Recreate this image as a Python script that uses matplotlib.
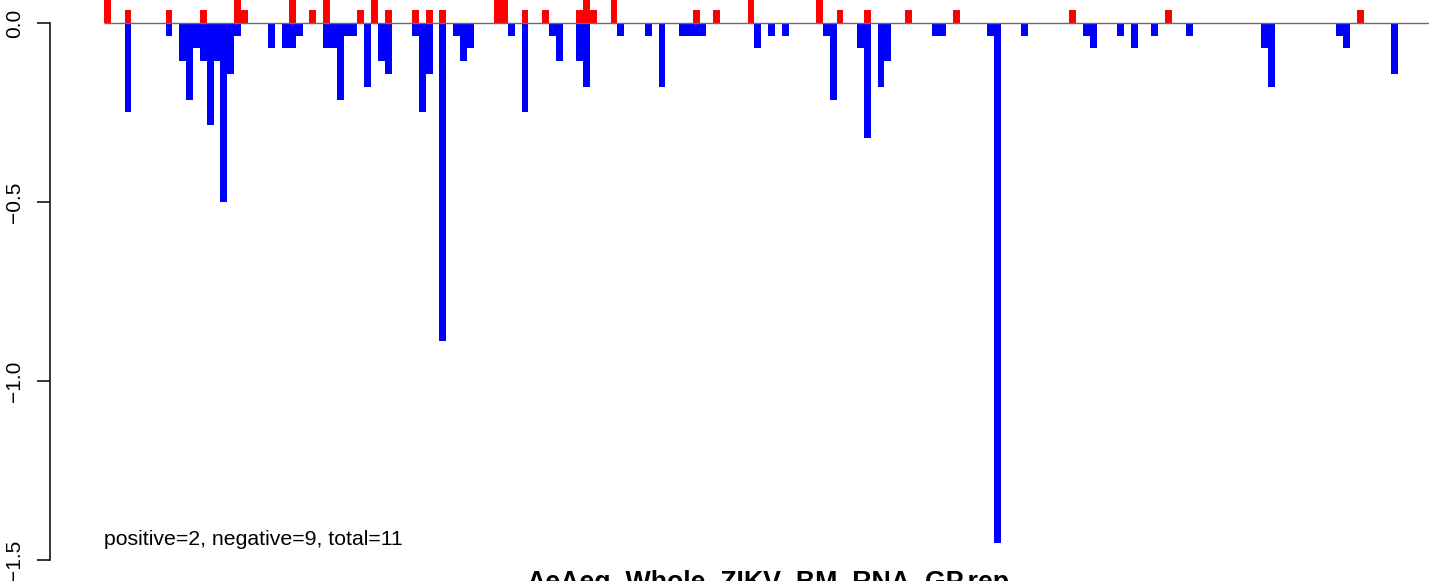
import matplotlib
matplotlib.use("Agg")
import matplotlib.pyplot as plt

plt.rcParams['font.family'] = ['Liberation Sans', 'DejaVu Sans']

# ---- data (bar index -> value) ----
pos_index = [0, 3, 9, 14, 19, 20, 27, 30, 32, 37, 39, 41, 45, 47, 49, 57, 58,
             61, 64, 69, 70, 71, 74, 86, 89, 94, 104, 107, 111, 117, 124, 141,
             155, 183]
pos_value = [0.071, 0.036, 0.036, 0.036, 0.071, 0.036, 0.071, 0.036, 0.071,
             0.036, 0.071, 0.036, 0.036, 0.036, 0.036, 0.071, 0.071, 0.036,
             0.036, 0.036, 0.071, 0.036, 0.071, 0.036, 0.036, 0.071, 0.071,
             0.036, 0.036, 0.036, 0.036, 0.036, 0.036, 0.036]

neg_index = [3, 9, 11, 12, 13, 14, 15, 16, 17, 18, 19, 24, 26, 27, 28, 32, 33,
             34, 35, 36, 38, 40, 41, 45, 46, 47, 49, 51, 52, 53, 59, 61, 65,
             66, 69, 70, 75, 79, 81, 84, 85, 86, 87, 95, 97, 99, 105, 106, 110,
             111, 113, 114, 121, 122, 129, 130, 134, 143, 144, 148, 150, 153,
             158, 169, 170, 180, 181, 188]
neg_value = [-0.250, -0.036, -0.107, -0.214, -0.071, -0.107, -0.286, -0.107,
             -0.500, -0.143, -0.036, -0.071, -0.071, -0.071, -0.036, -0.071,
             -0.071, -0.214, -0.036, -0.036, -0.179, -0.107, -0.143, -0.036,
             -0.250, -0.143, -0.888, -0.036, -0.107, -0.071, -0.036, -0.250,
             -0.036, -0.107, -0.107, -0.179, -0.036, -0.036, -0.179, -0.036,
             -0.036, -0.036, -0.036, -0.071, -0.036, -0.036, -0.036, -0.214,
             -0.071, -0.320, -0.179, -0.107, -0.036, -0.036, -0.036, -1.452,
             -0.036, -0.036, -0.071, -0.036, -0.071, -0.036, -0.036, -0.071,
             -0.179, -0.036, -0.071, -0.143]

y_ticks = [0.0, -0.5, -1.0, -1.5]
y_tick_labels = ['0.0', '\u22120.5', '\u22121.0', '\u22121.5']
summary_text = 'positive=2, negative=9, total=11'
x_label = 'AeAeg_Whole_ZIKV_BM_RNA_GP.rep'

# ---- figure ----
W, H = 1429, 581
fig = plt.figure(figsize=(W / 100, H / 100), dpi=100)
ax = fig.add_axes([50 / W, 21 / H, (W - 50) / W, 560 / H])

ax.bar(pos_index, pos_value, width=1.0, align='edge', color='#FF0000',
       linewidth=0, antialiased=False, zorder=2)
ax.bar(neg_index, neg_value, width=1.0, align='edge', color='#0000FF',
       linewidth=0, antialiased=False, zorder=2)

xmax = (W - 104) / 6.846
ax.hlines(0, 0, xmax, color='#6b6b6b', lw=1.0, zorder=3)

ax.set_xlim((50 - 104) / 6.846, xmax)
ax.set_ylim(-1.5, 23 / 358)

for s in ['top', 'right', 'bottom']:
    ax.spines[s].set_visible(False)
ax.spines['left'].set_bounds(-1.5, 0)
ax.spines['left'].set_linewidth(1.1)
ax.set_xticks([])
ax.set_yticks(y_ticks)
ax.set_yticklabels(y_tick_labels)
ax.tick_params(axis='y', length=9.5, width=1.1, pad=9, labelsize=15)
for lab in ax.get_yticklabels():
    lab.set_rotation(90)
    lab.set_va('center')
    lab.set_ha('right')

fig.text(104 / W, (H - 545) / H, summary_text, fontsize=15.3, ha='left',
         va='baseline')
fig.text(768 / W, (H - 570) / H, x_label, fontsize=19.3, fontweight='bold',
         ha='center', va='top')

fig.savefig('out.png', dpi=100)
